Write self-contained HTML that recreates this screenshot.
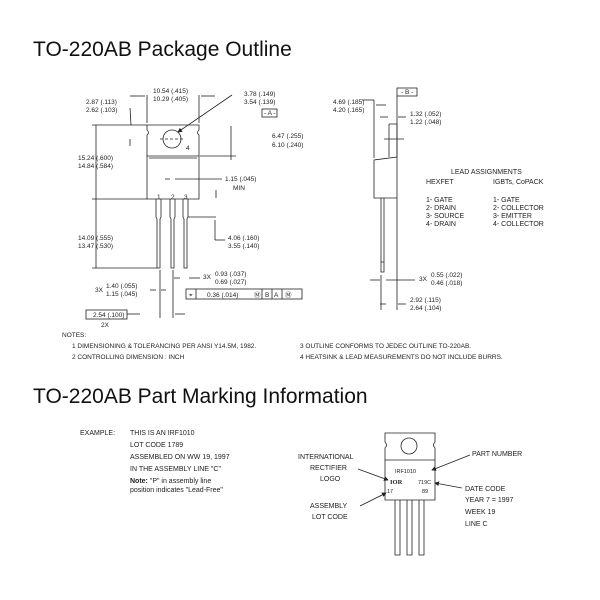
<!DOCTYPE html>
<html><head><style>
html,body{margin:0;padding:0;background:#fff;width:600px;height:600px;overflow:hidden}
svg{display:block}
text{font-family:"Liberation Sans",sans-serif;fill:#222}
.s{font-size:6.5px}
.m{font-size:7px}
.t{font-size:21px;fill:#111}
</style></head><body>
<svg width="600" height="600" viewBox="0 0 600 600" xmlns="http://www.w3.org/2000/svg">
<defs><marker id="a" markerWidth="6" markerHeight="6" refX="5" refY="3" orient="auto"><path d="M0,0L6,3L0,6z" fill="#222"/></marker></defs>
<text x="33" y="56" class="t">TO-220AB Package Outline</text>
<g stroke="#222" stroke-width="0.8" fill="none">
<path d="M147,125 H199 V130 Q196,132.5 199,135 V199 H147 V135 Q150,132.5 147,130 Z"/>
<line x1="147" y1="156" x2="199" y2="156"/>
<line x1="149" y1="158" x2="197" y2="158"/>
<circle cx="172" cy="139" r="9"/>
<line x1="160" y1="139" x2="184" y2="139" stroke-dasharray="3,2"/>
<path d="M156,199 V217 L157,219 V268 H160 V219 L161,217 V199"/>
<path d="M170,199 V217 L171,219 V268 H174 V219 L175,217 V199"/>
<path d="M183,199 V217 L184,219 V268 H187 V219 L188,217 V199"/>
<line x1="96" y1="125" x2="96" y2="268"/><line x1="92" y1="125" x2="147" y2="125"/><line x1="92" y1="199" x2="147" y2="199"/><line x1="92" y1="268" x2="157" y2="268"/>
<line x1="147" y1="95" x2="147" y2="123"/><line x1="199" y1="95" x2="199" y2="123"/>
<line x1="130" y1="96" x2="145" y2="96"/><line x1="201" y1="96" x2="215" y2="96"/>
<line x1="130" y1="108" x2="131" y2="125"/>
<line x1="232" y1="95" x2="178" y2="132" marker-end="url(#a)"/>
<line x1="200" y1="156" x2="236" y2="156"/><line x1="231" y1="126" x2="231" y2="160"/>
<line x1="130" y1="139" x2="130" y2="146"/>
<line x1="165" y1="179" x2="170" y2="179"/><line x1="175" y1="179" x2="222" y2="179"/>
<line x1="216" y1="190" x2="216" y2="198"/>
<line x1="188" y1="217" x2="216" y2="217"/><line x1="215" y1="220" x2="215" y2="240"/><line x1="215" y1="240" x2="225" y2="240"/>
<line x1="174" y1="278" x2="180" y2="278"/><line x1="189" y1="278" x2="200" y2="278"/>
<line x1="150" y1="290" x2="156" y2="290"/><line x1="161" y1="290" x2="166" y2="290"/>
<line x1="160" y1="270" x2="160" y2="318"/><line x1="173" y1="270" x2="173" y2="318"/>
<line x1="127" y1="314" x2="140" y2="314"/><line x1="175" y1="314" x2="185" y2="314"/>
<rect x="186" y="289" width="116" height="10"/>
<line x1="196" y1="289" x2="196" y2="299"/><line x1="262" y1="289" x2="262" y2="299"/><line x1="272" y1="289" x2="272" y2="299"/><line x1="282" y1="289" x2="282" y2="299"/>
<rect x="86" y="310" width="41" height="9"/>
<rect x="262" y="109" width="15" height="8"/>
<rect x="397" y="88" width="20" height="8"/>
<line x1="397" y1="96" x2="397" y2="310"/>
<path d="M389,124 H397 V157 L374,160 V198 H397"/>
<line x1="389" y1="124" x2="389" y2="157"/>
<line x1="384" y1="139" x2="404" y2="139"/>
<path d="M381,198 V262 H384 V198"/><path d="M381,262 V272 H384 V262"/>
<line x1="374" y1="100" x2="374" y2="158"/><line x1="376" y1="105" x2="386" y2="105"/><line x1="374" y1="100" x2="362" y2="100"/>
<line x1="380" y1="117" x2="388" y2="117"/><line x1="398" y1="117" x2="406" y2="117"/>
<line x1="370" y1="280" x2="380" y2="280"/><line x1="386" y1="280" x2="415" y2="280"/>
<line x1="381" y1="275" x2="381" y2="310"/>
<line x1="380" y1="304" x2="386" y2="304"/><line x1="398" y1="304" x2="406" y2="304"/>
</g>
<g class="s">
<text x="153" y="93">10.54 (.415)</text><text x="153" y="101">10.29 (.405)</text>
<text x="86" y="104">2.87 (.113)</text><text x="86" y="112">2.62 (.103)</text>
<text x="244" y="96">3.78 (.149)</text><text x="244" y="104">3.54 (.139)</text>
<text x="264" y="115">- A -</text>
<text x="272" y="138">6.47 (.255)</text><text x="272" y="147">6.10 (.240)</text>
<text x="186" y="150">4</text>
<text x="78" y="160">15.24 (.600)</text><text x="78" y="168">14.84 (.584)</text>
<text x="225" y="181">1.15 (.045)</text><text x="233" y="190">MIN</text>
<text x="157" y="199">1</text><text x="171" y="199">2</text><text x="184" y="199">3</text>
<text x="78" y="240">14.09 (.555)</text><text x="78" y="248">13.47 (.530)</text>
<text x="228" y="240">4.06 (.160)</text><text x="228" y="248">3.55 (.140)</text>
<text x="203" y="279">3X</text><text x="215" y="276">0.93 (.037)</text><text x="215" y="284">0.69 (.027)</text>
<text x="95" y="292">3X</text><text x="106" y="288">1.40 (.055)</text><text x="106" y="296">1.15 (.045)</text>
<text x="189" y="297">⌖</text><text x="207" y="297">0.36  (.014)</text><text x="254" y="297">Ⓜ</text><text x="265" y="297">B</text><text x="274" y="297">A</text><text x="285" y="297">Ⓜ</text>
<text x="93" y="317">2.54 (.100)</text><text x="101" y="327">2X</text>
<text x="401" y="94">- B -</text>
<text x="333" y="104">4.69 (.185)</text><text x="333" y="112">4.20 (.165)</text>
<text x="410" y="116">1.32 (.052)</text><text x="410" y="124">1.22 (.048)</text>
<text x="419" y="281">3X</text><text x="431" y="277">0.55 (.022)</text><text x="431" y="285">0.46 (.018)</text>
<text x="410" y="302">2.92 (.115)</text><text x="410" y="310">2.64 (.104)</text>
<text x="62" y="337">NOTES:</text>
<text x="72" y="348">1  DIMENSIONING &amp; TOLERANCING PER ANSI Y14.5M, 1982.</text>
<text x="72" y="359">2  CONTROLLING DIMENSION : INCH</text>
<text x="300" y="348">3  OUTLINE CONFORMS TO JEDEC OUTLINE TO-220AB.</text>
<text x="300" y="359">4  HEATSINK &amp; LEAD MEASUREMENTS DO NOT INCLUDE BURRS.</text>
</g>
<g class="m">
<text x="451" y="174">LEAD ASSIGNMENTS</text>
<text x="426" y="184">HEXFET</text><text x="493" y="184">IGBTs, CoPACK</text>
<text x="426" y="202">1- GATE</text><text x="426" y="210">2- DRAIN</text><text x="426" y="218">3- SOURCE</text><text x="426" y="226">4- DRAIN</text>
<text x="493" y="202">1- GATE</text><text x="493" y="210">2- COLLECTOR</text><text x="493" y="218">3- EMITTER</text><text x="493" y="226">4- COLLECTOR</text>
</g>
<text x="33" y="403" class="t">TO-220AB Part Marking Information</text>
<g class="m" fill="#333">
<text x="80" y="435">EXAMPLE:</text>
<text x="130" y="435">THIS IS AN IRF1010</text><text x="130" y="447">LOT CODE 1789</text>
<text x="130" y="459">ASSEMBLED ON WW 19, 1997</text><text x="130" y="471">IN THE ASSEMBLY LINE "C"</text>
<text x="130" y="483"><tspan font-weight="bold">Note:</tspan>  "P" in assembly line</text><text x="130" y="492">position indicates "Lead-Free"</text>
<text x="298" y="459">INTERNATIONAL</text><text x="310" y="470">RECTIFIER</text><text x="320" y="481">LOGO</text>
<text x="310" y="508">ASSEMBLY</text><text x="312" y="519">LOT CODE</text>
<text x="472" y="456">PART NUMBER</text>
<text x="465" y="491">DATE CODE</text><text x="465" y="502">YEAR 7 =  1997</text><text x="465" y="514">WEEK 19</text><text x="465" y="526">LINE C</text>
</g>
<g stroke="#222" stroke-width="0.8" fill="none">
<path d="M385,433 H435 V442 Q432,445 435,448 V500 H385 V448 Q388,445 385,442 Z"/>
<line x1="385" y1="460" x2="435" y2="460"/>
<circle cx="409" cy="446" r="8"/>
<path d="M395,500 V555 H400 V500"/><path d="M407,500 V555 H412 V500"/><path d="M419,500 V555 H424 V500"/>
<line x1="358" y1="469" x2="388" y2="480" marker-end="url(#a)"/>
<line x1="360" y1="506" x2="386" y2="493" marker-end="url(#a)"/>
<line x1="470" y1="455" x2="432" y2="470" marker-end="url(#a)"/>
<line x1="462" y1="488" x2="435" y2="483" marker-end="url(#a)"/>
</g>
<g style="font-size:5.5px">
<text x="395" y="473">IRF1010</text>
<text x="390" y="484" font-weight="bold" style="font-size:6.5px;font-family:'Liberation Serif',serif">IOR</text><text x="418" y="484">719C</text>
<text x="387" y="493">17</text><text x="422" y="493">89</text>
</g>
</svg>
</body></html>
